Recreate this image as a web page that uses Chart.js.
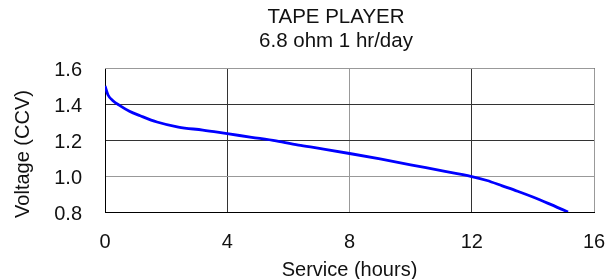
<!DOCTYPE html>
<html>
<head>
<meta charset="utf-8">
<script src="https://cdn.jsdelivr.net/npm/chart.js@4/dist/chart.umd.min.js"></script>
<style>
html,body{margin:0;padding:0;background:#fff;}
#wrap{width:612px;height:279px;}
</style>
</head>
<body>
<div id="wrap"><canvas id="c" width="612" height="279"></canvas></div>
<script>
const hours = [0, 0.1, 0.25, 0.5, 0.8, 1.15, 1.7, 2.4, 3.2, 4, 4.8, 5.6, 6.4, 7.2, 8, 9, 10, 11, 12, 12.5, 13, 13.5, 14, 14.5, 15.15];
const volts = [1.50, 1.45, 1.42, 1.39, 1.36, 1.335, 1.30, 1.272, 1.255, 1.235, 1.215, 1.195, 1.17, 1.148, 1.125, 1.095, 1.062, 1.03, 0.997, 0.975, 0.945, 0.915, 0.883, 0.848, 0.80];
const titleLines = ["TAPE PLAYER", "6.8 ohm 1 hr/day"];
const xTitle = "Service (hours)";
const yTitle = "Voltage (CCV)";
const xTicks = [0, 4, 8, 12, 16];
const yTicks = [0.8, 1.0, 1.2, 1.4, 1.6];

const FONT = "'Liberation Sans', Arial, sans-serif";
const TEXT = '#111';
const points = hours.map((h, i) => ({x: h, y: volts[i]}));

const noPad = s => { s.paddingLeft = 0; s.paddingRight = 0; s.paddingTop = 0; s.paddingBottom = 0; };

new Chart(document.getElementById('c'), {
  type: 'line',
  data: {
    datasets: [{
      data: points,
      borderColor: '#0000ff',
      borderWidth: 2.8,
      pointRadius: 0,
      cubicInterpolationMode: 'monotone',
      fill: false
    }]
  },
  options: {
    responsive: false,
    animation: false,
    devicePixelRatio: 1,
    layout: {padding: {left: 11, right: 18, top: 68, bottom: 0}},
    plugins: {
      legend: {display: false},
      tooltip: {enabled: false},
      title: {display: false}
    },
    scales: {
      x: {
        type: 'linear',
        min: 0, max: 16,
        afterBuildTicks: s => { s.ticks = xTicks.map(v => ({value: v})); },
        afterFit: s => { noPad(s); s.height = 67; },
        ticks: {color: TEXT, font: {family: FONT, size: 20, lineHeight: 1.2}, padding: 18, maxRotation: 0},
        grid: {color: c => (c.tick && c.tick.value === 8) ? '#999' : '#333', lineWidth: 1, drawTicks: false},
        border: {color: '#000', width: 1},
        title: {display: true, text: xTitle, color: TEXT, font: {family: FONT, size: 20, lineHeight: 0.9}, padding: {top: 8, bottom: 0}}
      },
      y: {
        type: 'linear',
        min: 0.8, max: 1.6,
        afterBuildTicks: s => { s.ticks = yTicks.map(v => ({value: v})); },
        afterFit: s => { noPad(s); s.width = 94; },
        ticks: {color: TEXT, font: {family: FONT, size: 20}, padding: 23, labelOffset: 2, callback: v => Number(v).toFixed(1)},
        grid: {color: c => (c.tick && Math.abs(c.tick.value - 1.0) < 1e-9) ? '#999' : '#333', lineWidth: 1, drawTicks: false},
        border: {color: '#000', width: 1},
        title: {display: false}
      }
    }
  },
  plugins: [{
    id: 'frameAndTitles',
    afterDatasetsDraw(chart) {
      const {ctx, chartArea: a} = chart;
      ctx.save();
      ctx.strokeStyle = '#999';
      ctx.lineWidth = 1;
      ctx.beginPath();
      ctx.moveTo(a.left, Math.round(a.top) + 0.5);
      ctx.lineTo(Math.round(a.right) + 0.5, Math.round(a.top) + 0.5);
      ctx.lineTo(Math.round(a.right) + 0.5, a.bottom);
      ctx.stroke();
      ctx.restore();
    },
    afterDraw(chart) {
      const {ctx, chartArea: a} = chart;
      ctx.save();
      ctx.fillStyle = TEXT;
      ctx.font = "20.5px " + FONT;
      ctx.textAlign = 'center';
      ctx.textBaseline = 'alphabetic';
      const cx = (a.left + a.right) / 2 - 13.5;
      ctx.fillText(titleLines[0], cx, 22.7);
      ctx.fillText(titleLines[1], cx, 46.7);
      ctx.restore();

      ctx.save();
      ctx.fillStyle = TEXT;
      ctx.font = "20px " + FONT;
      ctx.textAlign = 'center';
      ctx.textBaseline = 'middle';
      ctx.translate(23, (a.top + a.bottom) / 2 + 14);
      ctx.rotate(-Math.PI / 2);
      ctx.fillText(yTitle, 0, 0);
      ctx.restore();
    }
  }]
});
</script>
</body>
</html>
